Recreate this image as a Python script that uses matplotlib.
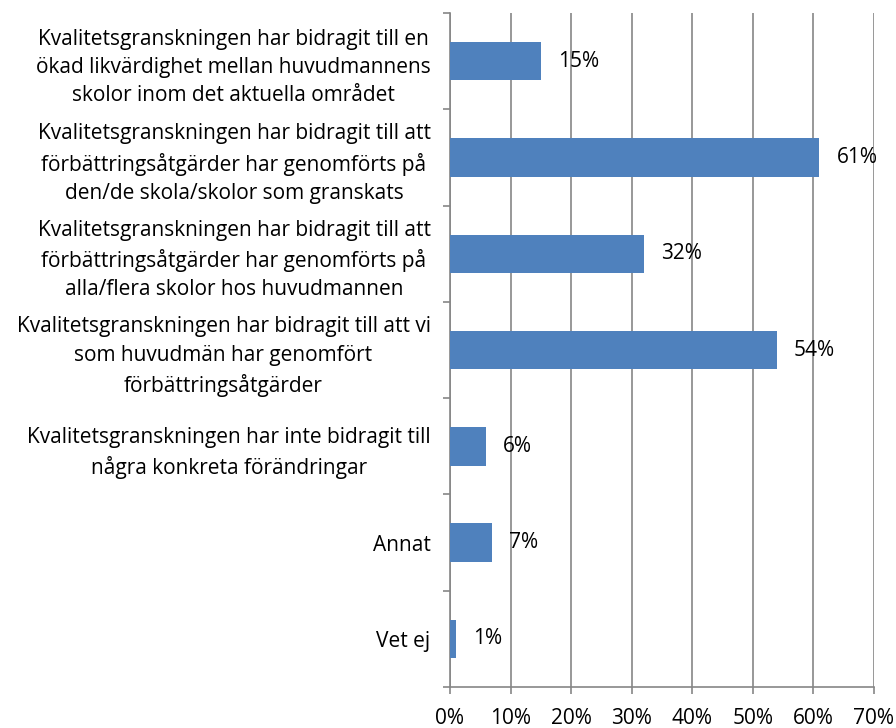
import matplotlib

matplotlib.use("Agg")
import matplotlib.pyplot as plt
import numpy as np

categories = [
    "Kvalitetsgranskningen har bidragit till en\nökad likvärdighet mellan huvudmannens\nskolor inom det aktuella området",
    "Kvalitetsgranskningen har bidragit till att\nförbättringsåtgärder har genomförts på\nden/de skola/skolor som granskats",
    "Kvalitetsgranskningen har bidragit till att\nförbättringsåtgärder har genomförts på\nalla/flera skolor hos huvudmannen",
    "Kvalitetsgranskningen har bidragit till att vi\nsom huvudmän har genomfört\nförbättringsåtgärder",
    "Kvalitetsgranskningen har inte bidragit till\nnågra konkreta förändringar",
    "Annat",
    "Vet ej",
]
values = [15, 61, 32, 54, 6, 7, 1]
x_ticks = [0, 10, 20, 30, 40, 50, 60, 70]

plt.rcParams["font.family"] = ["Open Sans", "DejaVu Sans"]
grey = "#868686"
fs = 15

fig = plt.figure(figsize=(8.96, 7.28), dpi=100)
ax = fig.add_axes([0.5022, 0.0563, 0.4732, 0.9257])

pos = np.arange(len(categories))
ax.barh(pos, values, height=0.4, color="#4F81BD", zorder=3)
for p, v in zip(pos, values):
    ax.text(v + 2.8, p, f"{v}%", va="center", ha="left", fontsize=fs, zorder=4)

ax.set_xlim(0, 70)
ax.set_ylim(len(categories) - 0.5, -0.5)
ax.set_xticks(x_ticks)
ax.set_xticklabels([f"{t}%" for t in x_ticks], fontsize=fs)
ax.tick_params(axis="x", length=5, color=grey, width=1.2, pad=10)

ax.set_yticks(np.arange(len(categories) + 1) - 0.5)
ax.set_yticklabels([])
ax.set_yticks(pos, minor=True)
ax.set_yticklabels(categories, minor=True, fontsize=fs)
for lbl in ax.get_yticklabels(minor=True):
    lbl.set_multialignment("center")
    lbl.set_linespacing(1.45)
ax.tick_params(axis="y", which="major", length=5, color=grey, width=1.2)
ax.tick_params(axis="y", which="minor", length=0, pad=14)

ax.grid(axis="x", color=grey, linewidth=1.2, zorder=0)
for side in ["top", "right"]:
    ax.spines[side].set_visible(False)
for side in ["left", "bottom"]:
    ax.spines[side].set_color(grey)
    ax.spines[side].set_linewidth(1.2)

fig.savefig("out.png", dpi=100)
